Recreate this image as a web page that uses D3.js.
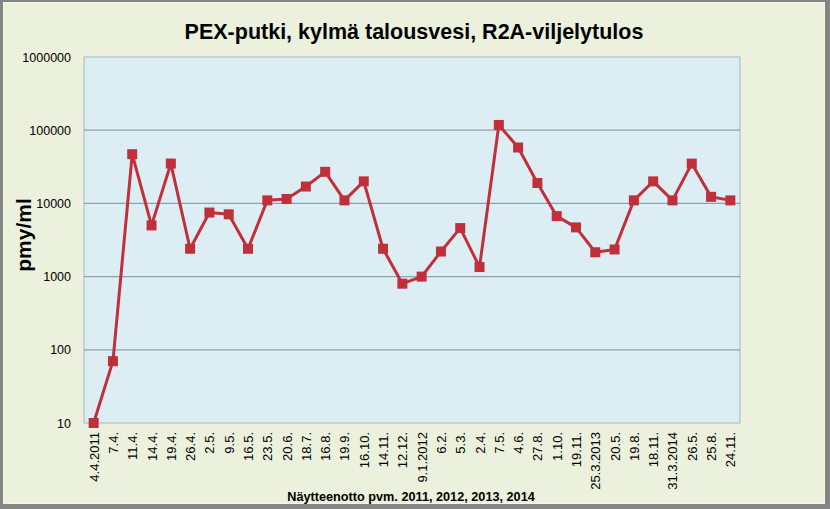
<!DOCTYPE html>
<html>
<head>
<meta charset="utf-8">
<script src="https://cdn.jsdelivr.net/npm/d3@7"></script>
<style>
html,body{margin:0;padding:0;background:#fff;}
svg{display:block;}
</style>
</head>
<body>
<svg id="chart" width="830" height="509"></svg>
<script>
const categories = ["4.4.2011","7.4.","11.4.","14.4.","19.4.","26.4.","2.5.","9.5.","16.5.","23.5.","20.6.","18.7.","16.8.","19.9.","16.10.","14.11.","12.12.","9.1.2012","6.2.","5.3.","2.4.","7.5.","4.6.","27.8.","1.10.","19.11.","25.3.2013","20.5.","19.8.","18.11.","31.3.2014","26.5.","25.8.","24.11."];
const values = [10,70,47000,5000,35000,2400,7500,7100,2400,11000,11500,17000,27000,11000,20000,2400,800,1000,2200,4600,1350,118000,58000,19000,6700,4700,2150,2350,11000,20000,11000,35000,12300,11000];
const yTicks = [10,100,1000,10000,100000,1000000];
const title = "PEX-putki, kylmä talousvesi, R2A-viljelytulos";
const yTitle = "pmy/ml";
const xTitle = "Näytteenotto pvm. 2011, 2012, 2013, 2014";

const svg = d3.select("#chart");
const W = 830, H = 509;
const plot = {left:84, right:740, top:57, bottom:423};
const lineColor = "#C0303B";
const font = "'Liberation Sans', Arial, sans-serif";

// frame
svg.append("rect").attr("x",0).attr("y",0).attr("width",W).attr("height",H).attr("fill","#858585");
svg.append("rect").attr("x",3).attr("y",2).attr("width",W-8).attr("height",H-7).attr("fill","#F4F7EA");
svg.append("rect").attr("x",4).attr("y",3).attr("width",W-10).attr("height",H-9).attr("fill","#EBF1DC");

// plot area
svg.append("rect").attr("x",plot.left).attr("y",plot.top)
  .attr("width",plot.right-plot.left).attr("height",plot.bottom-plot.top)
  .attr("fill","#DCEEF3").attr("stroke","#A9B7BE").attr("stroke-width",1);

const x = d3.scaleBand().domain(categories).range([plot.left, plot.right]).padding(0);
const y = d3.scaleLog().domain([10,1000000]).range([plot.bottom, plot.top]);

// gridlines
svg.append("g").selectAll("line").data(yTicks.slice(1,-1)).join("line")
  .attr("x1",plot.left).attr("x2",plot.right)
  .attr("y1",d=>y(d)).attr("y2",d=>y(d))
  .attr("stroke","#8EA2AE").attr("stroke-width",1.2);

// y axis
const yAxis = d3.axisLeft(y).tickValues(yTicks).tickFormat(d3.format("d")).tickSize(0).tickPadding(13);
const yg = svg.append("g").attr("transform",`translate(${plot.left},0)`).call(yAxis);
yg.select(".domain").remove();
yg.selectAll("text").attr("font-family",font).attr("font-size","12.5px").attr("fill","#000");

// x axis
const xAxis = d3.axisBottom(x).tickSize(0).tickPadding(0);
const xg = svg.append("g").attr("transform",`translate(0,${plot.bottom})`).call(xAxis);
xg.select(".domain").remove();
xg.selectAll("text")
  .attr("font-family",font).attr("font-size","13px").attr("fill","#000")
  .attr("text-anchor","end")
  .attr("dy",null)
  .attr("transform","translate(5,9) rotate(-90)");

// line
const cx = d => x(d) + x.bandwidth()/2;
const line = d3.line().x((d,i)=>cx(categories[i])).y(d=>y(d));
svg.append("path").datum(values).attr("d",line)
  .attr("fill","none").attr("stroke",lineColor).attr("stroke-width",3).attr("stroke-linejoin","round");

// markers
const ms = 10;
svg.append("g").selectAll("rect").data(values).join("rect")
  .attr("x",(d,i)=>cx(categories[i])-ms/2).attr("y",d=>y(d)-ms/2)
  .attr("width",ms).attr("height",ms).attr("fill",lineColor);

// titles
svg.append("text").attr("x",414).attr("y",39).attr("text-anchor","middle")
  .attr("font-family",font).attr("font-weight","bold").attr("font-size","21.5px").attr("fill","#000").text(title);
svg.append("text").attr("transform","translate(31,235) rotate(-90)").attr("text-anchor","middle")
  .attr("font-family",font).attr("font-weight","bold").attr("font-size","21px").attr("fill","#000").text(yTitle);
svg.append("text").attr("x",411).attr("y",501).attr("text-anchor","middle")
  .attr("font-family",font).attr("font-weight","bold").attr("font-size","12.7px").attr("fill","#000").text(xTitle);
</script>
</body>
</html>
